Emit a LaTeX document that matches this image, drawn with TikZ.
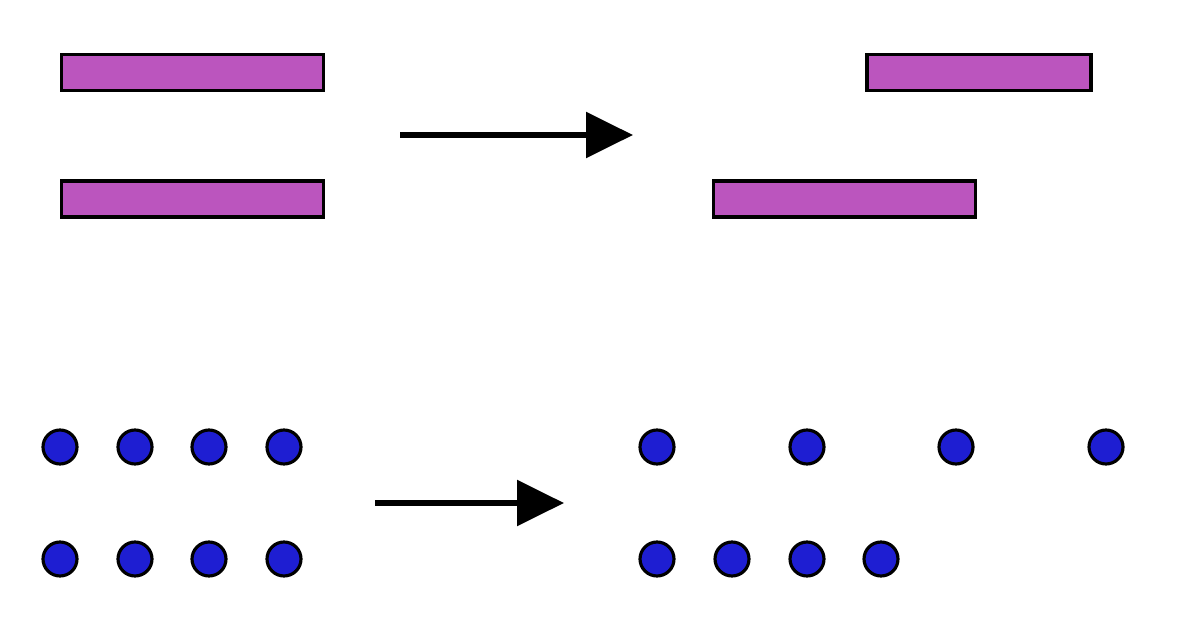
\documentclass[tikz,border=0pt]{standalone}
\usepackage{tikz}
\usetikzlibrary{arrows.meta}
\usepackage{xcolor}
\definecolor{barpink}{RGB}{187,85,190}
\definecolor{dotblue}{RGB}{30,30,210}

\begin{document}
\begin{tikzpicture}[x=0.02cm, y=-0.02cm,
  bar/.style={draw, line width=1.8pt, fill=barpink, inner sep=0pt, minimum height=0.72cm},
  dot/.style={draw, circle, line width=1.8pt, fill=dotblue, inner sep=0pt, minimum size=0.68cm},
  shift arrow/.style={line width=3.3pt, -{Triangle[length=0.94cm, width=0.9cm]}}]
\useasboundingbox (0,0) rectangle (1179,628);
% Bars before and after
\node[bar, minimum width=5.24cm] (b1) at (192.5,72.5) {};
\node[bar, minimum width=5.24cm] (b2) at (192.5,199) {};
\node[bar, minimum width=4.48cm] (b3) at (979,72.5) {};
\node[bar, minimum width=5.24cm] (b4) at (844.5,199) {};
\coordinate (a1) at (400,135);
\coordinate (a2) at (633,135);
\draw[shift arrow] (a1) -- (a2);
% Dots before
\foreach \i/\x in {1/60,2/135,3/209,4/284} {
  \node[dot] (p\i) at (\x,447) {};
  \node[dot] (q\i) at (\x,559) {};
}
\coordinate (a3) at (375,503);
\coordinate (a4) at (564,503);
\draw[shift arrow] (a3) -- (a4);
% Dots after
\foreach \i/\x in {1/657,2/807,3/956,4/1106}
  \node[dot] (r\i) at (\x,447) {};
\foreach \i/\x in {1/657,2/732,3/807,4/881}
  \node[dot] (s\i) at (\x,559) {};
\end{tikzpicture}
\end{document}
